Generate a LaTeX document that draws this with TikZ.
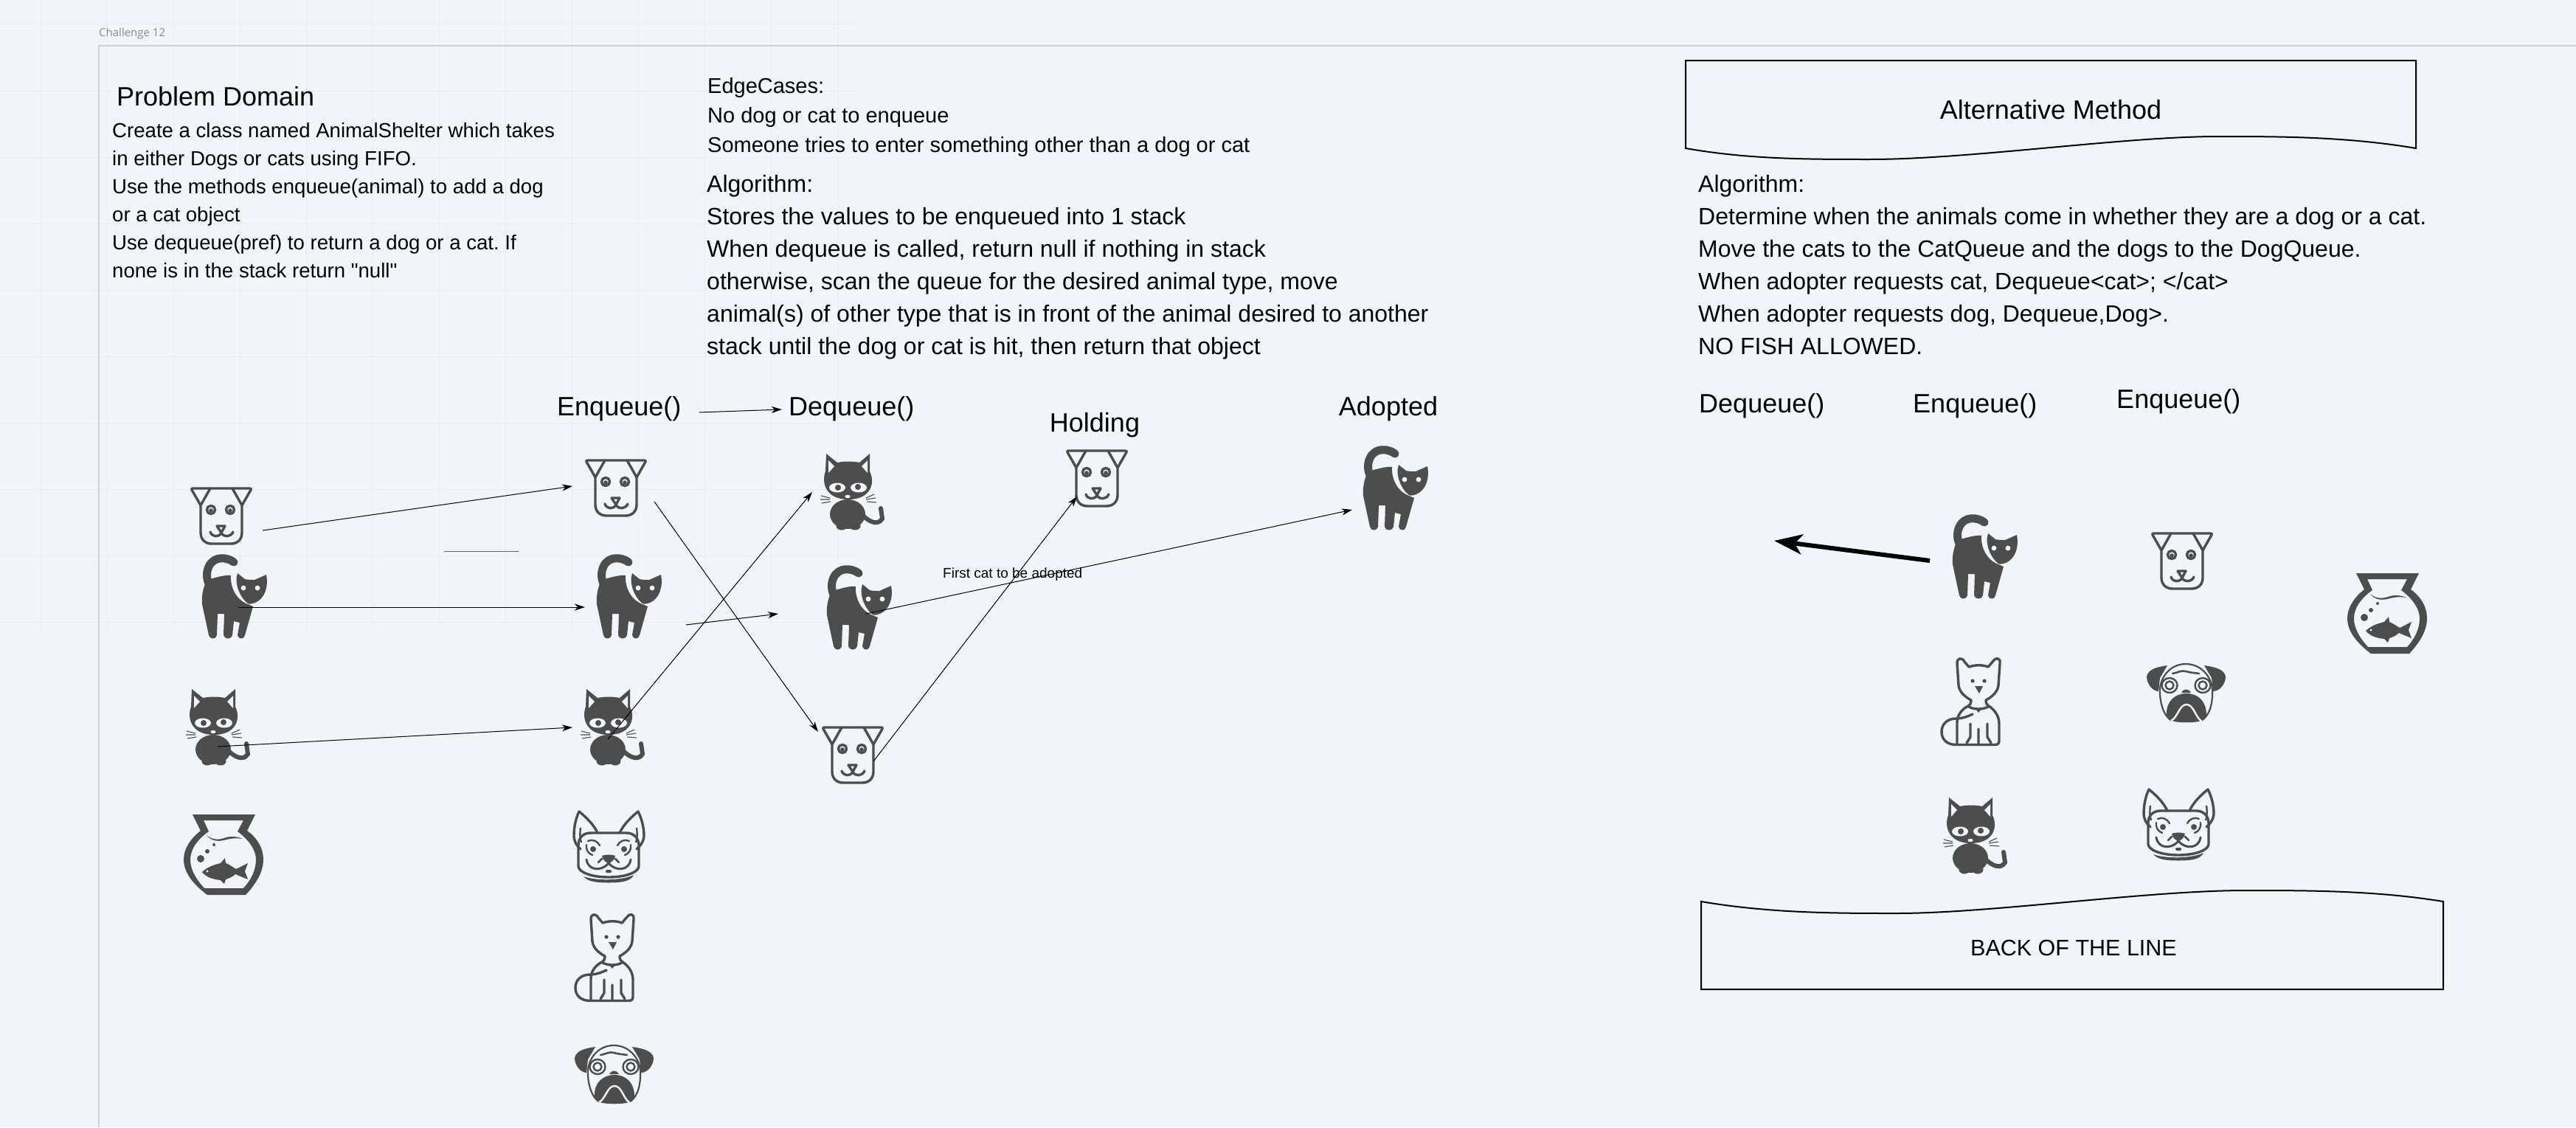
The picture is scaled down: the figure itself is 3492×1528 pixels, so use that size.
\documentclass[tikz,border=0pt]{standalone}
\usepackage{fontspec}
\setmainfont{Liberation Sans}[Ligatures=TeXOff]
\newfontfamily\framefont{Open Sans}
\usetikzlibrary{arrows.meta}
\frenchspacing

\definecolor{pagebg}{HTML}{F1F4F8}
\definecolor{gridcol}{HTML}{E8ECF0}
\definecolor{framecol}{HTML}{CDD2D7}
\definecolor{iconcol}{HTML}{4D4D4D}

% Icons are drawn from their top left corner, in pixels of the reference
\tikzset{
  iconline/.style={draw=iconcol, line width=3.4, line join=round, line cap=round},
  dogface/.pic={
    \draw[iconline] (14,25) -- (2,4) .. controls (1,2.5) and (2,2) .. (4,2) -- (80,2) .. controls (82,2) and (83,2.5) .. (82,4) -- (70,25);
    \draw[iconline] (27,2) -- (14,25) -- (14,62) .. controls (14,72) and (21,77) .. (29,77) -- (55,77) .. controls (63,77) and (70,72) .. (70,62) -- (70,25) -- (57,2);
    \draw[iconline] (28,31) circle[radius=5.6];
    \draw[iconline] (54,31) circle[radius=5.6];
    \fill[iconcol] (28,32) circle[radius=2.8];
    \fill[iconcol] (54,32) circle[radius=2.8];
    \draw[iconline] (36,53) -- (47,53) -- (42,62) -- cycle;
    \draw[iconline] (27,61) .. controls (29,68) and (39,69) .. (42,62) .. controls (45,69) and (55,68) .. (58,61);
  },
  standcat/.pic={
    \draw[iconcol, line width=11, line cap=round] (43,11) .. controls (34,4) and (16,2) .. (9,17) .. controls (5,26) and (6,34) .. (10,42);
    \fill[iconcol] (5,38) -- (14,33) .. controls (22,31) and (32,28) .. (39,29) .. controls (38,45) and (46,62) .. (62,68) -- (69,71) -- (58,110) .. controls (57,116) and (49,116) .. (48,110) -- (51,93) -- (43,91) -- (41,110) .. controls (40,116) and (30,116) .. (29,110) -- (30,81) -- (21,81) -- (20,110) .. controls (19,116) and (10,116) .. (9,110) -- (0,68) .. controls (-1,55) and (2,45) .. (5,38) -- cycle;
    \fill[iconcol] (48,26) -- (58,34) .. controls (62,35) and (67,35) .. (71,35) -- (87,28) .. controls (90,45) and (85,60) .. (72,66) .. controls (66,68) and (63,68) .. (62,67) .. controls (52,60) and (43,40) .. (48,26) -- cycle;
    \fill[pagebg] (56,46) circle[radius=3.4];
    \fill[pagebg] (75,46) circle[radius=3.4];
  },
  kitten/.pic={
    \fill[iconcol] (8,0) -- (23,12) .. controls (33,10) and (43,10) .. (53,12) -- (67,0) -- (67,24) .. controls (75,40) and (68,62) .. (38,62) .. controls (8,62) and (1,40) .. (7,24) -- cycle;
    \fill[pagebg] (11,9) -- (19,17) -- (11,26) -- cycle;
    \fill[pagebg] (64,9) -- (56,17) -- (64,26) -- cycle;
    \fill[pagebg] (23,46) circle[x radius=11, y radius=6.5];
    \fill[pagebg] (52,46) circle[x radius=11, y radius=6.5];
    \fill[iconcol] (24,46) circle[radius=4];
    \fill[iconcol] (51,45) circle[radius=4];
    \fill[pagebg] (37,58) circle[x radius=3.6, y radius=2.2];
    \fill[iconcol] (37,82) circle[x radius=24, y radius=20];
    \fill[iconcol] (29,98) circle[x radius=7.5, y radius=5.5];
    \fill[iconcol] (47,98) circle[x radius=7.5, y radius=5.5];
    \draw[iconcol, line width=6, line cap=round] (58,84) .. controls (66,92) and (78,98) .. (84,88) -- (82,74);
    \draw[iconcol, line width=1.1] (13,60) -- (1,57) (13,62) -- (0,62) (14,65) -- (2,67) (62,60) -- (73,55) (62,62) -- (75,60) (63,65) -- (76,66);
  },
  fishbowl/.pic={
    \fill[iconcol, even odd rule] (12,0) -- (97,0) -- (86,22) .. controls (100,32) and (108,46) .. (108,61) .. controls (108,78) and (98,94) .. (84,109) -- (32,109) .. controls (12,94) and (0,78) .. (0,61) .. controls (0,46) and (10,32) .. (23,22) -- cycle
      (27,8) -- (34,23) .. controls (18,34) and (9,48) .. (9,61) .. controls (9,76) and (18,89) .. (28,100) -- (81,100) .. controls (91,89) and (98,76) .. (98,61) .. controls (98,48) and (88,34) .. (73,23) -- (81,8) -- cycle;
    \fill[iconcol] (31,28) .. controls (40,36) and (50,34) .. (58,31) .. controls (65,29) and (73,30) .. (80,33) .. controls (72,32) and (65,32) .. (58,34) .. controls (48,37) and (38,37) .. (31,28) -- cycle;
    \fill[iconcol] (23,60) circle[radius=5];
    \fill[iconcol] (32,50) circle[radius=3];
    \fill[iconcol] (41,41) circle[radius=2];
    \fill[iconcol] (25,78) .. controls (32,71) and (42,68) .. (50,66) -- (56,59) -- (57,66) .. controls (62,68) and (66,71) .. (71,74) -- (87,66) -- (83,77) -- (87,88) -- (70,81) .. controls (66,85) and (60,87) .. (57,88) -- (55,94) -- (50,89) .. controls (40,88) and (30,85) .. (25,78) -- cycle;
    \fill[pagebg] (32,77) circle[radius=1.6];
  },
  frenchie/.pic={
    \draw[iconline] (10,53) .. controls (3,47) and (1,40) .. (1,35) .. controls (1,22) and (4,10) .. (8,2) .. controls (18,10) and (28,20) .. (33,31);
    \draw[iconline] (86,53) .. controls (93,47) and (96,40) .. (96,35) .. controls (96,22) and (92,10) .. (88,2) .. controls (78,10) and (68,20) .. (63,31);
    \draw[iconline] (7,48) .. controls (7,38) and (13,31) .. (24,31) -- (72,31) .. controls (82,31) and (89,38) .. (89,48) -- (89,76) .. controls (89,84) and (72,91) .. (48,91) .. controls (24,91) and (7,84) .. (7,76) -- cycle;
    \fill[iconcol] (14,90) .. controls (30,96) and (66,96) .. (82,88) .. controls (78,98) and (60,98.5) .. (48,98.5) .. controls (36,98.5) and (20,98) .. (14,90) -- cycle;
    \draw[iconcol, line width=2.4] (10,24) .. controls (9,32) and (9,38) .. (11,44);
    \draw[iconcol, line width=2.4] (86,24) .. controls (87,32) and (87,38) .. (85,44);
    \fill[iconcol] (27,53) circle[radius=4];
    \fill[iconcol] (69,53) circle[radius=4];
    \draw[iconcol, line width=2.4, line cap=round] (18,47) .. controls (17,53) and (20,59) .. (26,61) (78,47) .. controls (79,53) and (76,59) .. (70,61);
    \draw[iconcol, line width=2.4, line cap=round] (20,42) .. controls (26,39) and (33,42) .. (36,48) (76,42) .. controls (70,39) and (63,42) .. (60,48);
    \draw[iconcol, line width=3, line cap=round] (18,67) .. controls (20,82) and (38,84) .. (48,72) .. controls (58,84) and (76,82) .. (78,67);
    \fill[iconcol] (39,62) .. controls (44,60) and (52,60) .. (57,62) .. controls (56,68) and (52,70) .. (48,73) .. controls (44,70) and (40,68) .. (39,62) -- cycle;
    \draw[iconcol, line width=2.6, line cap=round] (34,71) -- (39,66) (62,71) -- (57,66);
    \fill[iconcol, rounded corners=1.5] (44,81) rectangle (52,85);
  },
  sitcat/.pic={
    \draw[iconline] (25,38) -- (23,8) .. controls (23,0) and (30,0) .. (33,6) -- (39,13) .. controls (47,10) and (58,10) .. (65,13) -- (72,5) .. controls (75,0) and (82,0) .. (81,8) -- (79,38) .. controls (78,48) and (68,55) .. (62,58) .. controls (62,62) and (63,64) .. (66,66) .. controls (72,70) and (80,78) .. (80,90) -- (80,113) .. controls (80,117) and (78,118.5) .. (74,118.5) -- (22,118.5) .. controls (10,118.5) and (2,112) .. (2,101) .. controls (2,90) and (10,83) .. (22,83) .. controls (30,83) and (38,80) .. (44,77);
    \draw[iconline] (25,38) .. controls (26,48) and (36,55) .. (42,58) .. controls (42,62) and (41,64) .. (38,66) .. controls (30,70) and (23,78) .. (23,88) -- (23,117);
    \draw[iconline] (39,67) .. controls (46,71) and (58,71) .. (65,67);
    \fill[iconcol] (48,70) -- (56,70) -- (52,75) -- cycle;
    \fill[iconcol] (44,32) circle[radius=2.6];
    \fill[iconcol] (60,32) circle[radius=2.6];
    \fill[iconcol] (47,39) -- (58,39) -- (53,49) -- cycle;
    \draw[iconline] (41,90) -- (41,108) (41,108) -- (36,116) (52,97) -- (52,117) (64,90) -- (64,108) -- (69,116);
  },
  pugface/.pic={
    \fill[iconcol] (28,3) .. controls (14,5) and (2,8) .. (0,18) .. controls (0,28) and (8,38) .. (16,38) -- (18,20) -- cycle;
    \fill[iconcol] (78,3) .. controls (92,5) and (105,8) .. (107,18) .. controls (107,28) and (99,38) .. (90,38) -- (88,20) -- cycle;
    \draw[iconcol, line width=2.2] (18,42) .. controls (16,22) and (30,1) .. (53,1) .. controls (76,1) and (91,22) .. (89,42) .. controls (89,58) and (84,72) .. (74,78);
    \draw[iconcol, line width=2.2] (18,42) .. controls (19,58) and (24,72) .. (34,78);
    \fill[iconcol] (27,70) .. controls (26,52) and (38,41) .. (54,41) .. controls (70,41) and (81,52) .. (81,70) .. controls (80,74) and (78,76) .. (74,78) .. controls (66,81) and (42,81) .. (34,78) .. controls (30,76) and (27,74) .. (27,70) -- cycle;
    \draw[pagebg, line width=2.4] (33,78) .. controls (42,74) and (44,56) .. (54,56) .. controls (64,56) and (66,74) .. (75,79);
    \draw[iconcol, line width=2.4] (31,30) circle[x radius=10.5, y radius=10];
    \draw[iconcol, line width=2.4] (31,30) circle[radius=5.5];
    \draw[iconcol, line width=2.4] (76,30) circle[x radius=10.5, y radius=10];
    \draw[iconcol, line width=2.4] (76,30) circle[radius=5.5];
    \draw[iconcol, line width=2.6, line cap=round] (35,14) .. controls (42,13) and (47,9) .. (53,11) .. controls (60,13) and (65,13) .. (71,14);
    \fill[iconcol] (47,40) .. controls (49,34) and (58,34) .. (60,40) -- cycle;
  }
}

\begin{document}
\begin{tikzpicture}[x=1pt, y=-1pt]
    % Define text and arrow styles
    \tikzstyle{headlabel} = [inner sep=0, font=\fontsize{36pt}{40pt}\selectfont]
    \tikzstyle{bodytext} = [inner sep=0, anchor=north west, align=left, font=\fontsize{27.6pt}{38pt}\selectfont]
    \tikzstyle{algotext} = [inner sep=0, anchor=north west, align=left, font=\fontsize{32pt}{44pt}\selectfont]
    \tikzstyle{flow} = [black, line width=1, -{Stealth[length=14pt, width=9pt, inset=4pt]}]
    \tikzstyle{banner} = [draw=black, line width=2, line join=miter]

    % Page, faint grid and frame
    \fill[pagebg] (0,0) rectangle (3492,1528);
    \useasboundingbox (0,0) rectangle (3492,1528);
    \foreach \gx in {55,145,...,1135} \draw[gridcol, line width=1] (\gx,0) -- (\gx,852);
    \foreach \gy in {33,123,...,843} \draw[gridcol, line width=1] (0,\gy) -- (1163,\gy);
    \draw[framecol, line width=2.5] (3492,62) -- (134,62) -- (134,1528);
    \node[inner sep=0, anchor=west, text=black!45, font=\framefont\fontsize{15pt}{18pt}\selectfont] (frametitle) at (134,46) {Challenge 12};

    % Text blocks
    \node[inner sep=0, anchor=north west, font=\fontsize{36pt}{40pt}\selectfont] (problemhead) at (158,117) {Problem Domain};
    \node[bodytext] (problem) at (152,166) {Create a class named AnimalShelter which takes\\in either Dogs or cats using FIFO.\\Use the methods enqueue(animal) to add a dog\\or a cat object\\Use dequeue(pref) to return a dog or a cat. If\\none is in the stack return "null"};
    \node[bodytext, font=\fontsize{29pt}{40pt}\selectfont] (edges) at (959,105) {EdgeCases:\\No dog or cat to enqueue\\Someone tries to enter something other than a dog or cat};
    \node[algotext] (algo) at (958,237) {Algorithm:\\Stores the values to be enqueued into 1 stack\\When dequeue is called, return null if nothing in stack\\otherwise, scan the queue for the desired animal type, move\\animal(s) of other type that is in front of the animal desired to another\\stack until the dog or cat is hit, then return that object};
    \node[algotext] (altalgo) at (2302,237) {Algorithm:\\Determine when the animals come in whether they are a dog or a cat.\\Move the cats to the CatQueue and the dogs to the DogQueue.\\When adopter requests cat, Dequeue<cat>; </cat>\\When adopter requests dog, Dequeue,Dog>.\\NO FISH ALLOWED.};

    % Column labels
    \node[headlabel, anchor=west] (enqlabel) at (755,554) {Enqueue()};
    \node[headlabel, anchor=west] (deqlabel) at (1069,554) {Dequeue()};
    \node[headlabel] (holdlabel) at (1484,576) {Holding};
    \node[headlabel] (adoptlabel) at (1882,554) {Adopted};
    \node[headlabel, anchor=west] (altdeq) at (2303,550) {Dequeue()};
    \node[headlabel, anchor=west] (altenqa) at (2593,550) {Enqueue()};
    \node[headlabel, anchor=west] (altenqb) at (2869,544) {Enqueue()};

    % Animals in the first three columns
    \pic (dogin) at (258,660) {dogface};
    \pic (catin) at (274,751) {standcat};
    \pic (kitin) at (252,934) {kitten};
    \pic (fishin) at (249,1104) {fishbowl};
    \pic (dogenq) at (793,622) {dogface};
    \pic (catenq) at (809,751) {standcat};
    \pic (kitenq) at (787,934) {kitten};
    \pic (frenchenq) at (777,1098) {frenchie};
    \pic (sitenq) at (778,1238) {sitcat};
    \pic (pugenq) at (779,1416) {pugface};
    \pic (kitdeq) at (1112,615) {kitten};
    \pic (catdeq) at (1121,766) {standcat};
    \pic (dogdeq) at (1114,984) {dogface};
    \pic (doghold) at (1445,609) {dogface};
    \pic (catadopt) at (1848,604) {standcat};

    % Animals of the alternative method
    \pic (catalt) at (2647,697) {standcat};
    \pic (sitalt) at (2630,891) {sitcat};
    \pic (kitalt) at (2634,1081) {kitten};
    \pic (dogalt) at (2916,721) {dogface};
    \pic (pugalt) at (2910,899) {pugface};
    \pic (frenchalt) at (2905,1068) {frenchie};
    \pic (fishalt) at (3182,777) {fishbowl};

    % Free ends of the connectors
    \coordinate (a1) at (356,719);
    \coordinate (a2) at (776,659);
    \coordinate (b1) at (323,823);
    \coordinate (b2) at (793,823);
    \coordinate (c1) at (295,1012);
    \coordinate (c2) at (776,986);
    \coordinate (d1) at (948,559);
    \coordinate (d2) at (1060,555);
    \coordinate (e1) at (887,680);
    \coordinate (e2) at (1109,992);
    \coordinate (f1) at (824,1002);
    \coordinate (f2) at (1101,667);
    \coordinate (g1) at (930,847);
    \coordinate (g2) at (1055,832);
    \coordinate (h1) at (1174,832);
    \coordinate (h2) at (1833,691);
    \coordinate (i1) at (1184,1032);
    \coordinate (i2) at (1460,673);
    \coordinate (j1) at (2616,760);
    \coordinate (j2) at (2405,733);
    \coordinate (k1) at (602,747);
    \coordinate (k2) at (703,747);

    % Draw connections as arrows
    \draw[flow] (a1) -- (a2);
    \draw[flow] (b1) -- (b2);
    \draw[flow] (c1) -- (c2);
    \draw[flow] (d1) -- (d2);
    \draw[flow] (e1) -- (e2);
    \draw[flow] (f1) -- (f2);
    \draw[flow] (g1) -- (g2);
    \draw[flow] (h1) -- (h2);
    \draw[flow] (i1) -- (i2);
    \draw[black, line width=6, -{Stealth[length=38pt, width=27pt, inset=10pt]}] (j1) -- (j2);
    \draw[black!60, line width=1] (k1) -- (k2);

    \node[inner sep=0, anchor=west, font=\fontsize{19pt}{22pt}\selectfont] (firstcat) at (1278,779) {First cat to be adopted};

    % Banners of the alternative method
    \draw[banner] (2285,82) -- (3275,82) -- (3275,201) .. controls (3180,185) and (3090,185) .. (3006,185) .. controls (2880,185) and (2670,216) .. (2535,216) .. controls (2450,216) and (2370,216) .. (2285,201) -- cycle;
    \node[inner sep=0, font=\fontsize{36pt}{40pt}\selectfont] (althead) at (2780,149) {Alternative Method};
    \draw[banner] (2306,1222) .. controls (2400,1238) and (2490,1238) .. (2571,1238) .. controls (2700,1238) and (2910,1207) .. (3044,1207) .. controls (3130,1207) and (3220,1207) .. (3312,1222) -- (3312,1341) -- (2306,1341) -- cycle;
    \node[inner sep=0, font=\fontsize{30.5pt}{34pt}\selectfont] (backline) at (2811,1285) {BACK OF THE LINE};
\end{tikzpicture}
\end{document}
